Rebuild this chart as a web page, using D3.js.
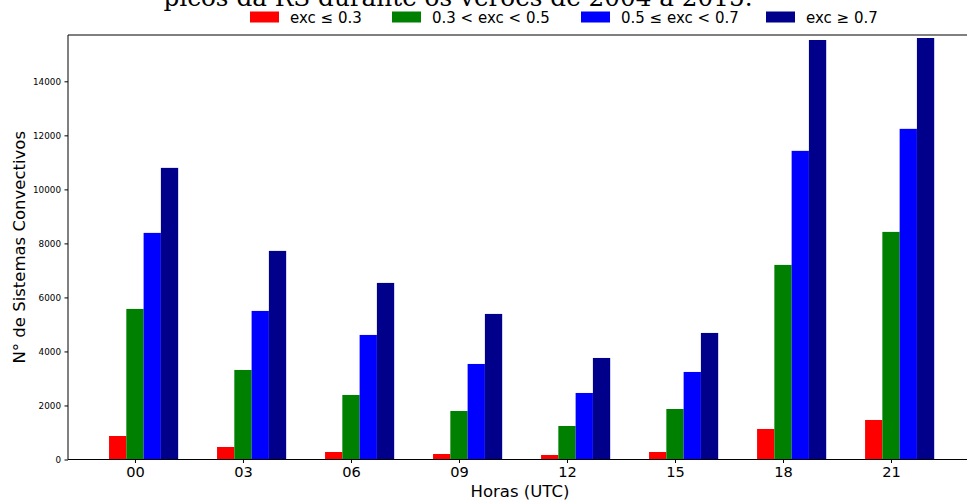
<!DOCTYPE html>
<html>
<head>
<meta charset="utf-8">
<script src="https://cdn.jsdelivr.net/npm/d3@7"></script>
<style>
  body { margin: 0; background: #fff; }
  svg { display: block; font-family: "DejaVu Sans", sans-serif; }
</style>
</head>
<body>
<div id="chart"></div>
<script>
const hours = ["00", "03", "06", "09", "12", "15", "18", "21"];
const excLow = [870, 463, 278, 204, 167, 278, 1130, 1463];
const excMidLow = [5574, 3315, 2389, 1796, 1241, 1870, 7204, 8426];
const excMidHigh = [8389, 5500, 4611, 3537, 2463, 3241, 11426, 12241];
const excHigh = [10796, 7722, 6537, 5389, 3759, 4685, 15530, 15604];
const seriesNames = ["exc \u2264 0.3", "0.3 < exc < 0.5", "0.5 \u2264 exc < 0.7", "exc \u2265 0.7"];
const seriesColors = ["#ff0000", "#008000", "#0000ff", "#00008b"];
const yTicks = [0, 2000, 4000, 6000, 8000, 10000, 12000, 14000];
const titleText = "picos da RS durante os ver\u00f5es de 2004 a 2015.";

const width = 967;
const height = 503;
const margin = { top: 35, right: -5, bottom: 43.5, left: 68 };
const series = [excLow, excMidLow, excMidHigh, excHigh];
const barWidth = 0.16;

const svg = d3
  .select("#chart")
  .append("svg")
  .attr("width", width)
  .attr("height", height);

const xScale = d3.scaleLinear().domain([-0.62, 7.75]).range([margin.left, width - margin.right]);
const yScale = d3.scaleLinear().domain([0, 15715]).range([height - margin.bottom, margin.top]);

// bars
series.forEach((values, i) => {
  svg
    .append("g")
    .selectAll("rect")
    .data(values)
    .enter()
    .append("rect")
    .attr("x", (v, j) => xScale(j + (i - 1.5) * barWidth))
    .attr("width", xScale(barWidth) - xScale(0))
    .attr("y", (v) => yScale(v))
    .attr("height", (v) => yScale(0) - yScale(v))
    .attr("fill", seriesColors[i]);
});

// axes
const xAxis = d3
  .axisBottom(xScale)
  .tickValues(d3.range(hours.length))
  .tickFormat((i) => hours[i])
  .tickSize(3.5)
  .tickPadding(4);

const xg = svg
  .append("g")
  .attr("transform", `translate(0, ${yScale(0)})`)
  .call(xAxis);
xg.select(".domain").remove();
xg.selectAll("text").attr("font-size", 14.6).attr("fill", "#000").attr("font-family", "DejaVu Sans");

const yAxis = d3.axisLeft(yScale).tickValues(yTicks).tickFormat(d3.format("d")).tickSize(3.5).tickPadding(3.5);
const yg = svg
  .append("g")
  .attr("transform", `translate(${margin.left}, 0)`)
  .call(yAxis);
yg.select(".domain").remove();
yg.selectAll("text").attr("font-size", 8.8).attr("fill", "#000").attr("font-family", "DejaVu Sans");

// spines (left, top, bottom)
svg
  .append("path")
  .attr("d", `M${width - margin.right},${margin.top}H${margin.left}V${yScale(0)}H${width - margin.right}`)
  .attr("fill", "none")
  .attr("stroke", "#000")
  .attr("stroke-width", 1);

// axis labels
svg
  .append("text")
  .attr("x", (margin.left + width - margin.right) / 2)
  .attr("y", 497)
  .attr("text-anchor", "middle")
  .attr("font-size", 16.5)
  .text("Horas (UTC)");

svg
  .append("text")
  .attr("transform", `translate(25, ${(margin.top + yScale(0)) / 2}) rotate(-90)`)
  .attr("text-anchor", "middle")
  .attr("font-size", 16.5)
  .text("N\u00b0 de Sistemas Convectivos");

// title (cut off at the top)
svg
  .append("text")
  .attr("x", 458)
  .attr("y", 6)
  .attr("text-anchor", "middle")
  .attr("font-family", "DejaVu Serif")
  .attr("font-size", 24.7)
  .text(titleText);

// legend
const legendX = [250, 392, 581, 766];
const legend = svg.append("g");
seriesNames.forEach((name, i) => {
  legend
    .append("rect")
    .attr("x", legendX[i])
    .attr("y", 11.5)
    .attr("width", 29)
    .attr("height", 11)
    .attr("fill", seriesColors[i]);
  legend
    .append("text")
    .attr("x", legendX[i] + 40)
    .attr("y", 23)
    .attr("font-size", 15)
    .text(name);
});
</script>
</body>
</html>
